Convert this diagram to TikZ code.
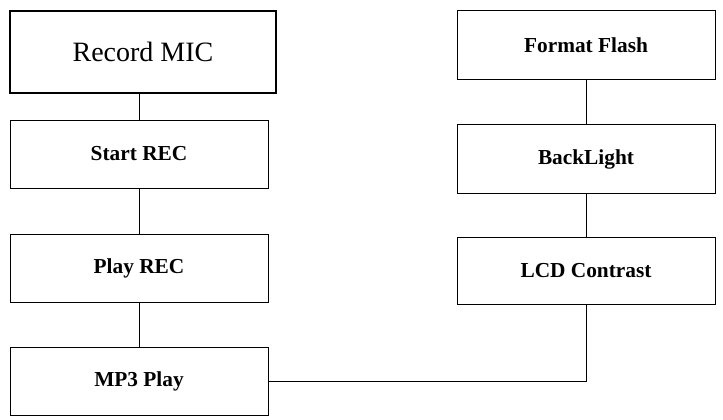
\documentclass[tikz,border=0pt]{standalone}
\usepackage{fontspec}
\setmainfont{Liberation Serif}
\usetikzlibrary{positioning}
\tikzset{
  menu/.style={draw, rectangle, minimum width=193.5pt, minimum height=51pt, font=\bfseries\fontsize{16}{19}\selectfont},
  top/.style={draw, line width=1.6pt, rectangle, minimum width=199pt, minimum height=62pt, font=\fontsize{21}{24}\selectfont}
}
\begin{document}
\begin{tikzpicture}[x=0.75pt, y=-0.75pt]
    \useasboundingbox (0,0) rectangle (723,420);
    % Left column
    \node[top] (mic) at (143,52) {Record MIC};
    \node[menu] (start) at (139,154) {Start REC};
    \node[menu] (play) at (139,268) {Play REC};
    \node[menu] (mp3) at (139,381) {MP3 Play};
    % Right column
    \node[menu, minimum height=52pt] (flash) at (586,45) {Format Flash};
    \node[menu, minimum height=52pt] (light) at (586,159) {BackLight};
    \node[menu, minimum height=50pt] (lcd) at (586,271) {LCD Contrast};
    % Links
    \draw (mic.south -| start.north) -- (start);
    \draw (start) -- (play);
    \draw (play) -- (mp3);
    \draw (flash) -- (light);
    \draw (light) -- (lcd);
    \draw (mp3.east) -| (lcd.south);
\end{tikzpicture}
\end{document}
